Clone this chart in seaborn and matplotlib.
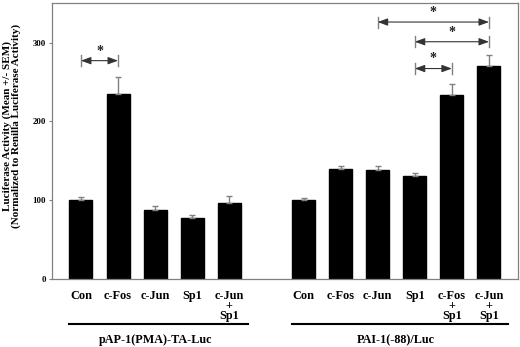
import matplotlib
matplotlib.use("Agg")
import matplotlib.pyplot as plt
import seaborn as sns
import numpy as np
import pandas as pd

# ---- data ----
group1_labels = ["Con", "c-Fos", "c-Jun", "Sp1", "c-Jun\n+\nSp1"]
group1_values = [100, 235, 87, 77, 97]
group1_sem = [4, 21, 6, 4, 8]

group2_labels = ["Con", "c-Fos", "c-Jun", "Sp1", "c-Fos\n+\nSp1", "c-Jun\n+\nSp1"]
group2_values = [100, 139, 138, 131, 234, 270]
group2_sem = [3, 4, 5, 3, 13, 14]

group_names = ["pAP-1(PMA)-TA-Luc", "PAI-1(-88)/Luc"]
y_ticks = [0, 100, 200, 300]
ylabel = "Luciferase Activity (Mean +/- SEM)\n(Normalized to Renilla Luciferase Activity)"

# significance comparisons: (group, index a, index b, height)
sig_pairs = [(0, 0, 1, 277), (1, 2, 5, 326), (1, 3, 5, 301), (1, 3, 4, 267)]

# ---- layout ----
gap = 6
pos1 = list(range(len(group1_labels)))
pos2 = [gap + i for i in range(len(group2_labels))]
positions = pos1 + pos2
labels = group1_labels + group2_labels
values = group1_values + group2_values
sems = group1_sem + group2_sem
df = pd.DataFrame({"pos": positions, "value": values})

plt.rcParams["font.family"] = ["Liberation Serif", "DejaVu Serif"]
plt.rcParams["font.weight"] = "bold"

fig = plt.figure(figsize=(5.2, 3.47), dpi=100)
ax = fig.add_axes([0.1, 0.196, 0.896, 0.795])

sns.barplot(data=df, x="pos", y="value", native_scale=True, width=0.62,
            color="black", saturation=1, errorbar=None, ax=ax, edgecolor="black")

ax.errorbar(positions, values, yerr=[np.zeros(len(sems)), sems], fmt="none",
            ecolor="#808080", elinewidth=1, capsize=2, capthick=1)

ax.set_xlim(-0.78, 11.78)
ax.set_ylim(0, 350)
ax.set_yticks(y_ticks)
ax.set_yticklabels([str(t) for t in y_ticks], fontsize=6.3, fontweight="bold")
ax.set_xticks(positions)
ax.set_xticklabels(labels, fontsize=8.8, fontweight="bold", linespacing=0.75)
ax.tick_params(axis="x", length=0, pad=8)
ax.tick_params(axis="y", length=2.5, width=0.8, color="#808080", pad=2)
ax.set_xlabel("")
ax.set_ylabel(ylabel, fontsize=8, fontweight="bold", linespacing=0.9)
ax.yaxis.set_label_coords(-0.066, 0.555)
for s in ax.spines.values():
    s.set_color("#808080")
    s.set_linewidth(0.9)

# significance arrows
group_pos = [pos1, pos2]
for g, a, b, h in sig_pairs:
    xa, xb = group_pos[g][a], group_pos[g][b]
    ax.annotate("", xy=(xb, h), xytext=(xa, h),
                arrowprops=dict(arrowstyle="<|-|>,head_length=0.6,head_width=0.22",
                                color="#333333", lw=0.8, shrinkA=0, shrinkB=0))
    for x in (xa, xb):
        ax.plot([x, x], [h - 7, h + 7], color="#808080", lw=1)
    ax.text((xa + xb) / 2, h + 4, "*", ha="center", va="bottom", fontsize=10,
            fontweight="bold", color="#222222")

# group underlines and names
trans = matplotlib.transforms.blended_transform_factory(ax.transData, fig.transFigure)
for pos, name in zip(group_pos, group_names):
    x0, x1 = pos[0] - 0.31, pos[-1] + 0.5
    ax.plot([x0, x1], [0.066, 0.066], transform=trans, color="black", lw=1.5,
            clip_on=False)
    ax.text((pos[0] + pos[-1]) / 2, 0.02, name, transform=trans, ha="center",
            va="center", fontsize=8.7, fontweight="bold")

fig.savefig("out.png", dpi=100)
